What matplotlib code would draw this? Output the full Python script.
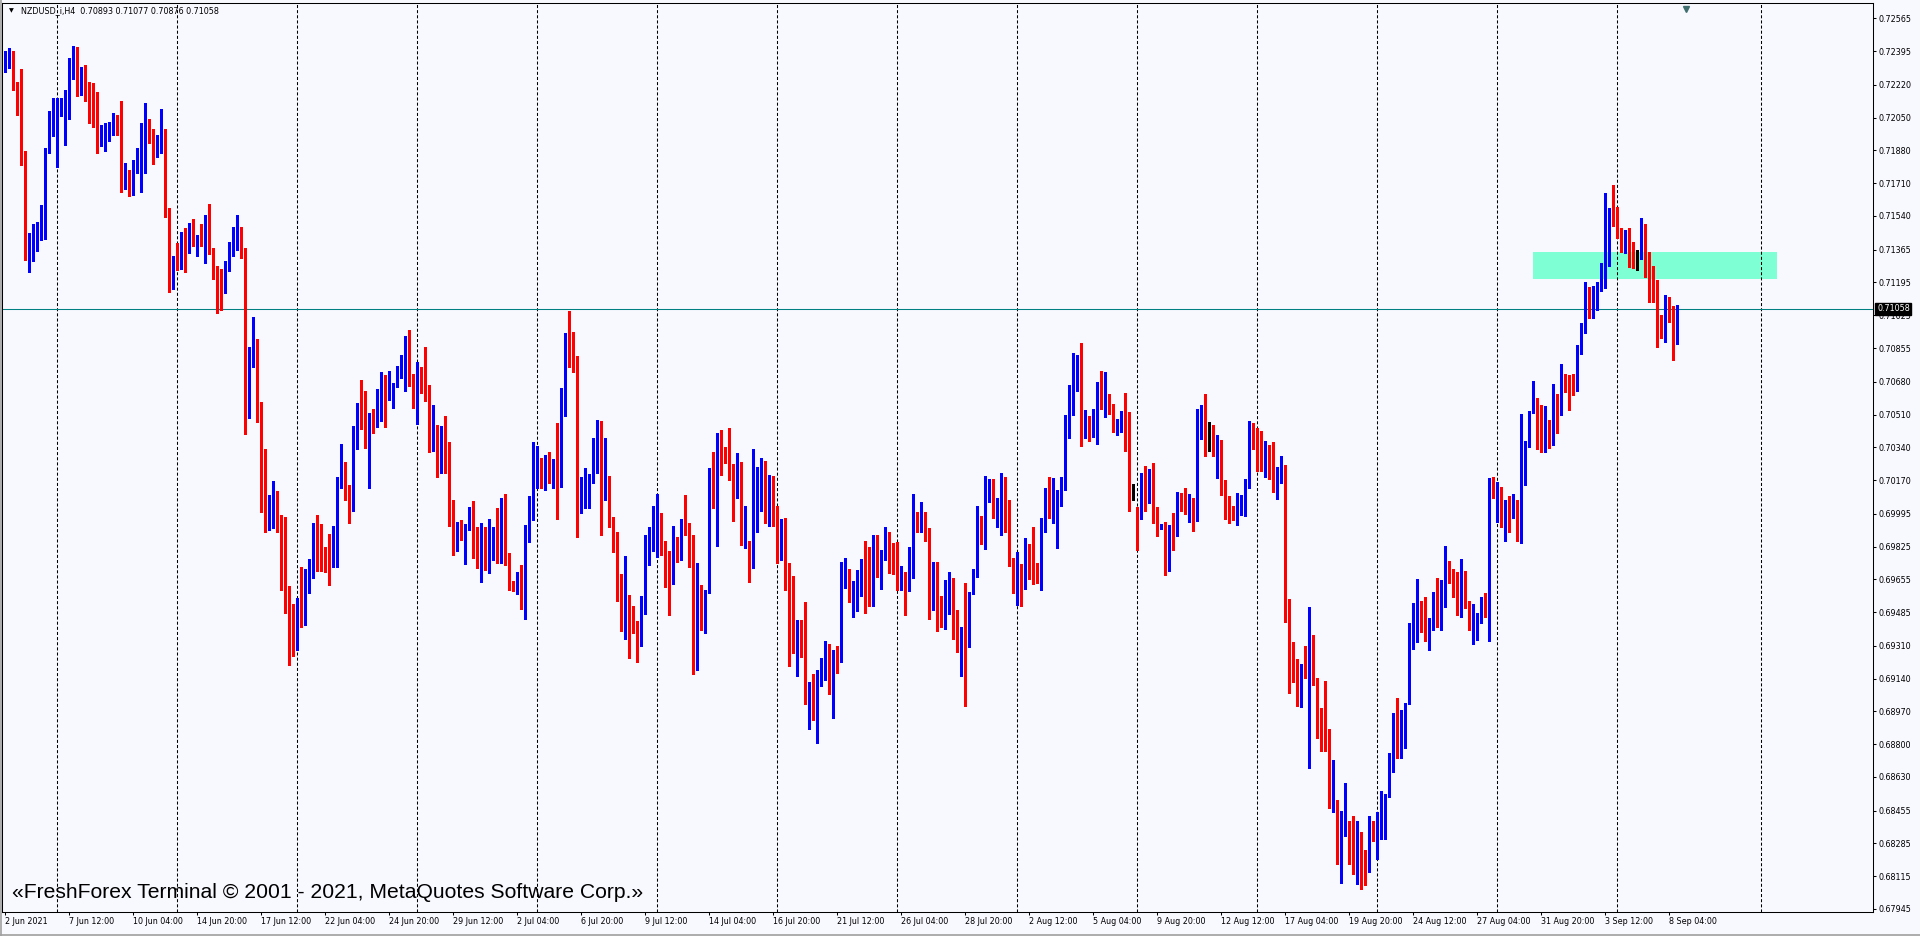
import numpy as np
import pandas as pd
import matplotlib
matplotlib.use("Agg")
import matplotlib.pyplot as plt
import matplotlib.transforms as mtransforms
from matplotlib.patches import Rectangle
from matplotlib.lines import Line2D

# ---------------- data (prices in 1e-5 points) ----------------
title_text = "NZDUSD_i,H4  0.70893 0.71077 0.70876 0.71058"
watermark = "«FreshForex Terminal © 2001 - 2021, MetaQuotes Software Corp.»"
first_bar_time = "2021-06-02 20:00"

close_pts = [
    72390, 72392, 72202, 72185, 71815, 71344, 71449, 71455, 71491, 71516,
    71888, 71968, 72102, 72072, 72102, 72160, 72302, 72380, 72175, 72281,
    72139, 72118, 72087, 71924, 71961, 72010, 72024, 72035, 71968, 71717,
    71773, 71658, 71825, 71840, 71978, 72020, 71976, 71913, 71938, 71972,
    71558, 71225, 71277, 71270, 71449, 71359, 71418, 71397, 71438, 71407,
    71518, 71371, 71246, 71166, 71146, 71261, 71397, 71407, 71438, 71365,
    70497, 70769, 70880, 70549, 70010, 69926, 69953, 70068, 69911, 69880,
    69612, 69367, 69305, 69556, 69541, 69618, 69660, 69925, 69842, 69799,
    69769, 69742, 69769, 70179, 70257, 70101, 70058, 70395, 70494, 70442,
    70424, 70495, 70490, 70547, 70689, 70589, 70592, 70658, 70715, 70758,
    70914, 70667, 70577, 70750, 70672, 70641, 70381, 70424, 70208, 70442,
    70257, 69997, 69850, 69920, 69885, 69932, 69963, 69776, 69770, 69807,
    69721, 69863, 69876, 69833, 70061, 69738, 69631, 69600, 69669, 69565,
    69932, 70079, 70291, 70226, 70176, 70253, 70179, 70274, 70157, 70539,
    70862, 70827, 70807, 70024, 70110, 70124, 70166, 70243, 70352, 70162,
    70174, 69977, 69877, 69681, 69514, 69574, 69519, 69410, 69375, 69496,
    69846, 69880, 69989, 69932, 69828, 69716, 69669, 69820, 69799, 69932,
    69908, 69872, 69208, 69626, 69441, 69595, 70114, 70036, 70399, 70297,
    70262, 70249, 70110, 70243, 69839, 69847, 69735, 70128, 70202, 70269,
    70058, 70188, 69955, 69804, 69917, 69657, 69415, 69332, 69439, 69272,
    69030, 69116, 68986, 69173, 69177, 69303, 69104, 69268, 69249, 69618,
    69699, 69540, 69595, 69605, 69704, 69635, 69519, 69846, 69707, 69759,
    69885, 69816, 69730, 69666, 69673, 69635, 69683, 69993, 69975, 70005,
    69911, 69519, 69730, 69566, 69457, 69535, 69557, 69491, 69318, 69349,
    69318, 69586, 69681, 69932, 69908, 70075, 70093, 70007, 70044, 70157,
    69933, 69728, 69695, 69734, 69627, 69777, 69738, 69734, 69660, 69927,
    70109, 70040, 70070, 70093, 70157, 70405, 70534, 70659, 70747, 70450,
    70495, 70445, 70479, 70606, 70567, 70591, 70548, 70450, 70460, 70515,
    70388, 70083, 70083, 69976, 70202, 70073, 70202, 69995, 69923, 69933,
    69703, 69929, 69914, 70031, 70021, 70001, 70044, 69976, 70476, 70542,
    70378, 70378, 70298, 70362, 70167, 70064, 70011, 69995, 70040, 70066,
    70171, 70421, 70388, 70333, 70275, 70333, 70249, 70124, 70187, 70236,
    69439, 69293, 69158, 69000, 69186, 69178, 69351, 69143, 68928, 68869,
    68834, 68493, 68497, 68196, 68348, 68401, 68333, 68331, 68333, 68206,
    68173, 68366, 68336, 68372, 68401, 68532, 68733, 68953, 68737, 68811,
    69006, 69349, 69422, 69456, 69409, 69375, 69449, 69561, 69418, 69613,
    69708, 69651, 69631, 69496, 69643, 69510, 69397, 69404, 69449, 69542,
    69530, 70175, 70127, 70066, 69985, 70015, 69980, 69994, 69859, 70222,
    70346, 70528, 70580, 70452, 70322, 70395, 70357, 70606, 70545, 70694,
    70685, 70646, 70640, 70870, 70969, 71112, 71012, 71150, 71178, 71285,
    71488, 71579, 71531, 71453, 71367, 71392, 71386, 71325, 71325, 71493,
    71247, 71220, 71164, 70991, 70983, 71099, 71043, 70893, 71058,
]

high_pts = [
    72395, 72411, 72395, 72233, 72302, 71878, 71453, 71501, 71507, 71595,
    71892, 72087, 72150, 72150, 72150, 72192, 72359, 72422, 72417, 72311,
    72323, 72233, 72229, 72181, 72010, 72024, 72030, 72076, 72066, 72139,
    71813, 71779, 71830, 71892, 72024, 72125, 72041, 71989, 71961, 72097,
    71993, 71581, 71334, 71401, 71459, 71478, 71505, 71526, 71440, 71501,
    71547, 71600, 71376, 71282, 71267, 71309, 71407, 71484, 71547, 71484,
    71376, 70859, 71014, 70901, 70574, 70330, 70095, 70166, 70114, 69991,
    69978, 69618, 69525, 69560, 69719, 69706, 69759, 69946, 69989, 69942,
    69825, 69889, 69932, 70185, 70357, 70262, 70144, 70450, 70571, 70689,
    70634, 70516, 70539, 70641, 70732, 70715, 70737, 70672, 70762, 70819,
    70917, 70948, 70720, 70784, 70758, 70862, 70663, 70559, 70455, 70450,
    70502, 70369, 70067, 69954, 69963, 69940, 70032, 70061, 69928, 69949,
    69928, 69966, 69928, 70023, 70075, 70098, 69793, 69646, 69695, 69729,
    69935, 70085, 70369, 70348, 70286, 70300, 70317, 70278, 70468, 70649,
    70935, 71047, 70940, 70815, 70185, 70235, 70202, 70390, 70482, 70477,
    70390, 70192, 69980, 69903, 69681, 69777, 69574, 69519, 69439, 69566,
    69885, 69929, 70036, 70096, 70001, 69854, 69804, 69932, 69872, 69967,
    70093, 69949, 69885, 69742, 69626, 69600, 70231, 70313, 70416, 70430,
    70344, 70439, 70254, 70309, 70266, 70036, 69856, 70330, 70240, 70287,
    70269, 70197, 70192, 70036, 69967, 69972, 69739, 69673, 69445, 69445,
    69536, 69120, 69165, 69182, 69246, 69336, 69318, 69289, 69310, 69747,
    69768, 69707, 69647, 69704, 69759, 69854, 69825, 69885, 69885, 69808,
    69925, 69903, 69846, 69851, 69726, 69695, 69825, 70098, 70006, 70058,
    70006, 69920, 69747, 69747, 69569, 69652, 69692, 69664, 69497, 69410,
    69635, 69590, 69709, 70036, 69982, 70191, 70177, 70173, 70079, 70206,
    70187, 70066, 69767, 69796, 69734, 69871, 69839, 69927, 69738, 69972,
    70128, 70187, 70183, 70118, 70187, 70509, 70665, 70831, 70821, 70880,
    70534, 70503, 70538, 70679, 70737, 70733, 70616, 70567, 70489, 70528,
    70620, 70524, 70148, 70031, 70206, 70245, 70226, 70259, 70031, 69943,
    69953, 69937, 70001, 70109, 70103, 70128, 70099, 70075, 70538, 70557,
    70616, 70470, 70454, 70405, 70378, 70171, 70089, 70034, 70103, 70095,
    70175, 70476, 70466, 70440, 70427, 70372, 70353, 70368, 70236, 70294,
    70249, 69552, 69332, 69244, 69215, 69308, 69513, 69367, 69143, 68986,
    69127, 68879, 68719, 68508, 68454, 68596, 68401, 68426, 68401, 68342,
    68251, 68426, 68401, 68450, 68557, 68543, 68752, 68961, 69039, 68977,
    69012, 69429, 69530, 69657, 69542, 69561, 69453, 69591, 69660, 69651,
    69828, 69750, 69707, 69691, 69760, 69698, 69542, 69525, 69479, 69561,
    69586, 70182, 70184, 70161, 70136, 70066, 70087, 70097, 70066, 70511,
    70372, 70530, 70684, 70597, 70559, 70556, 70481, 70668, 70616, 70772,
    70720, 70715, 70720, 70872, 70983, 71195, 71173, 71178, 71199, 71297,
    71660, 71580, 71700, 71588, 71476, 71467, 71479, 71406, 71363, 71531,
    71501, 71351, 71280, 71207, 71026, 71130, 71118, 71073, 71077,
]

low_pts = [
    72286, 72307, 72195, 72066, 71804, 71313, 71250, 71307, 71359, 71418,
    71422, 71867, 71957, 71794, 72060, 71909, 72045, 72250, 72160, 72170,
    72135, 72020, 72003, 71867, 71905, 71878, 71930, 71961, 71961, 71662,
    71679, 71643, 71648, 71763, 71662, 71763, 71920, 71809, 71846, 71867,
    71533, 71146, 71162, 71262, 71265, 71250, 71348, 71382, 71334, 71382,
    71296, 71344, 71215, 71037, 71051, 71140, 71256, 71334, 71361, 71323,
    70409, 70493, 70754, 70472, 70005, 69901, 69911, 69922, 69901, 69597,
    69478, 69210, 69259, 69290, 69409, 69420, 69583, 69660, 69700, 69700,
    69695, 69626, 69721, 69721, 70127, 70067, 69949, 70011, 70329, 70433,
    70335, 70131, 70412, 70447, 70478, 70447, 70585, 70546, 70654, 70698,
    70634, 70658, 70542, 70461, 70623, 70582, 70317, 70323, 70184, 70205,
    70205, 69932, 69781, 69804, 69859, 69735, 69911, 69767, 69712, 69643,
    69703, 69690, 69755, 69738, 69738, 69729, 69600, 69596, 69579, 69501,
    69449, 69850, 69963, 70127, 70127, 70118, 70157, 70127, 69968, 70136,
    70502, 70758, 70732, 69873, 70001, 70027, 70027, 70153, 70205, 69886,
    70067, 69929, 69799, 69543, 69389, 69344, 69246, 69375, 69225, 69311,
    69474, 69730, 69804, 69773, 69782, 69617, 69471, 69631, 69747, 69756,
    69885, 69721, 69165, 69182, 69393, 69379, 69583, 70024, 69828, 70197,
    70257, 70171, 69958, 70079, 69834, 69816, 69643, 69713, 69899, 70007,
    69946, 69932, 69932, 69742, 69756, 69600, 69203, 69272, 69151, 69251,
    69009, 68878, 68926, 68805, 69102, 69134, 69061, 68935, 69168, 69225,
    69609, 69535, 69457, 69491, 69569, 69479, 69515, 69515, 69669, 69604,
    69756, 69690, 69683, 69600, 69600, 69471, 69592, 69661, 69898, 69898,
    69856, 69450, 69496, 69389, 69410, 69398, 69474, 69346, 69280, 69151,
    69000, 69306, 69580, 69669, 69839, 69812, 70056, 69972, 69927, 69884,
    69900, 69722, 69586, 69523, 69519, 69605, 69656, 69630, 69636, 69601,
    69900, 69972, 69949, 69820, 70034, 70118, 70386, 70509, 70632, 70349,
    70388, 70372, 70392, 70358, 70538, 70495, 70515, 70417, 70405, 70417,
    70323, 70007, 70066, 69806, 69968, 70007, 70050, 69947, 69880, 69918,
    69679, 69699, 69806, 69878, 70007, 69992, 69953, 69908, 69956, 70382,
    70294, 70323, 70294, 70181, 70093, 69968, 69949, 69962, 69939, 69988,
    69986, 70128, 70333, 70216, 70216, 70187, 70177, 70109, 70074, 70157,
    69435, 69065, 69123, 68996, 68992, 69143, 68678, 69109, 68834, 68762,
    68762, 68469, 68450, 68177, 68079, 68323, 68180, 68128, 68073, 68050,
    68069, 68134, 68297, 68206, 68307, 68307, 68524, 68655, 68730, 68730,
    68782, 69006, 69293, 69331, 69383, 69337, 69288, 69392, 69409, 69392,
    69513, 69634, 69565, 69470, 69461, 69504, 69392, 69319, 69340, 69427,
    69458, 69337, 70078, 69951, 69928, 69855, 69899, 69975, 69855, 69845,
    70144, 70343, 70516, 70331, 70318, 70318, 70334, 70351, 70416, 70507,
    70628, 70533, 70611, 70632, 70824, 70934, 71009, 71010, 71052, 71152,
    71168, 71282, 71488, 71424, 71354, 71349, 71273, 71268, 71259, 71316,
    71225, 71095, 71095, 70862, 70908, 70884, 70991, 70793, 70876,
]

# opens that differ from the previous close (first bar and weekend gaps)
open_gaps = {0: 72353, 13: 71888, 103: 70615, 133: 70196, 163: 69868,
             193: 70007, 253: 69644, 283: 70031, 313: 70421, 343: 68206,
             373: 69951, 403: 71507}

x_tick_labels = ["2 Jun 2021", "7 Jun 12:00", "10 Jun 04:00", "14 Jun 20:00",
                 "17 Jun 12:00", "22 Jun 04:00", "24 Jun 20:00", "29 Jun 12:00",
                 "2 Jul 04:00", "6 Jul 20:00", "9 Jul 12:00", "14 Jul 04:00",
                 "16 Jul 20:00", "21 Jul 12:00", "26 Jul 04:00", "28 Jul 20:00",
                 "2 Aug 12:00", "5 Aug 04:00", "9 Aug 20:00", "12 Aug 12:00",
                 "17 Aug 04:00", "19 Aug 20:00", "24 Aug 12:00", "27 Aug 04:00",
                 "31 Aug 20:00", "3 Sep 12:00", "8 Sep 04:00"]
x_label_every = 16

y_tick_labels = ["0.72565", "0.72395", "0.72220", "0.72050", "0.71880", "0.71710",
                 "0.71540", "0.71365", "0.71195", "0.71025", "0.70855", "0.70680",
                 "0.70510", "0.70340", "0.70170", "0.69995", "0.69825", "0.69655",
                 "0.69485", "0.69310", "0.69140", "0.68970", "0.68800", "0.68630",
                 "0.68455", "0.68285", "0.68115", "0.67945"]

current_price = 0.71058
zone_low, zone_high = 0.71213, 0.71353
zone_start_bar, zone_end_bar = 381.9, 442.9
future_grid_bars = [439]
shift_marker_bar = 420.2

# ---------------- preparation ----------------
closes = np.array(close_pts) / 1e5
highs = np.array(high_pts) / 1e5
lows = np.array(low_pts) / 1e5
n = len(closes)
opens = np.empty(n)
opens[1:] = closes[:-1]
for k, v in open_gaps.items():
    opens[k] = v / 1e5
x = np.arange(n)

times = pd.date_range(first_bar_time, periods=n * 2, freq="4h")
times = times[times.weekday < 5][:n]
grid_bars = [i for i, t in enumerate(times) if t.weekday() == 0 and t.hour == 0]
grid_bars += future_grid_bars

BG = "#F8F8FF"
W, H = 1920, 936
plt.rcParams["font.family"] = ["DejaVu Sans"]
plt.rcParams["lines.scale_dashes"] = False

fig = plt.figure(figsize=(W / 100, H / 100), dpi=100)
fig.patch.set_facecolor(BG)
ax_left, ax_right, ax_top, ax_bottom = 2, 1873, 3, 912
ax = fig.add_axes([ax_left / W, 1 - ax_bottom / H, (ax_right - ax_left) / W,
                   (ax_bottom - ax_top) / H])
ax.set_facecolor(BG)
ax.set_xlim(-0.825, 466.9)
ax.set_ylim(0.67929, 0.72645)

# zone rectangle (background object)
ax.add_patch(Rectangle((zone_start_bar, zone_low), zone_end_bar - zone_start_bar,
                       zone_high - zone_low, facecolor="#7FFFD4", edgecolor="none",
                       zorder=1))

# vertical dashed grid
ax.vlines(grid_bars, 0.67929, 0.72645, colors="black", linewidth=0.75,
          linestyles=[(0, (2.2, 1.5))], zorder=1.5)

# current price line
ax.axhline(current_price, color="#008080", linewidth=0.75, zorder=2)

# candles
up = closes > opens
down = closes < opens
colors = np.where(up, "#0000FF", np.where(down, "#FF0000", "#000000"))
px_price = (0.72645 - 0.67929) / (ax_bottom - ax_top)
body_low = np.minimum(opens, closes)
body_h = np.maximum(np.abs(closes - opens), px_price)
ax.vlines(x, lows, highs, colors=colors, linewidth=0.75, antialiased=False, zorder=3)
ax.bar(x, body_h, bottom=body_low, width=0.66, color=colors, linewidth=0,
       antialiased=False, zorder=4)

# axes styling
for s in ax.spines.values():
    s.set_color("black")
    s.set_linewidth(0.75)

ax.yaxis.tick_right()
ax.set_yticks([float(v) for v in y_tick_labels])
ax.set_yticklabels(y_tick_labels)
ax.tick_params(axis="y", which="both", direction="out", length=2.2, width=0.75,
               pad=1.6, labelsize=5.8, colors="black", left=False)

ax.set_xticks([i * x_label_every for i in range(len(x_tick_labels))])
ax.set_xticklabels(x_tick_labels)
ax.tick_params(axis="x", direction="out", length=2.2, width=0.75, pad=1.5,
               labelsize=5.8, colors="black")
for lbl in ax.get_xticklabels():
    lbl.set_horizontalalignment("left")

# current price box on the scale
offset = mtransforms.ScaledTranslation(4 / 100, 0, fig.dpi_scale_trans)
trans = mtransforms.blended_transform_factory(ax.transAxes, ax.transData) + offset
ax.text(1.0, current_price, f"{current_price:.5f}", transform=trans, ha="left",
        va="center", color="white", fontsize=5.8, clip_on=False, zorder=20,
        bbox=dict(boxstyle="square,pad=0.2", facecolor="black", edgecolor="black"))

# chart shift marker
mtrans = mtransforms.blended_transform_factory(ax.transData, ax.transAxes)
ax.plot([shift_marker_bar], [0.993], marker="v", markersize=4.5, color="#3F6F6F",
        transform=mtrans, clip_on=False, zorder=20)

# title
fig.text(9 / W, 1 - 10.7 / H, "\u25BC", fontsize=4.5, va="center", ha="left",
         color="black")
fig.text(20.7 / W, 1 - 10.7 / H, title_text, fontsize=5.8, va="center",
         ha="left", color="black")

# watermark
fig.text(12 / W, 1 - 892 / H, watermark, fontsize=15.25,
         family=["Liberation Sans", "DejaVu Sans"],
         va="center", ha="left", color="black", zorder=30)

# window border lines
fig.add_artist(Line2D([0, 1], [1 - 934.5 / H] * 2, color="#A0A0A0", linewidth=1.2))
fig.add_artist(Line2D([0.5 / W] * 2, [0, 1], color="#A0A0A0", linewidth=1.2))

fig.savefig("out.png", dpi=100, facecolor=BG)
